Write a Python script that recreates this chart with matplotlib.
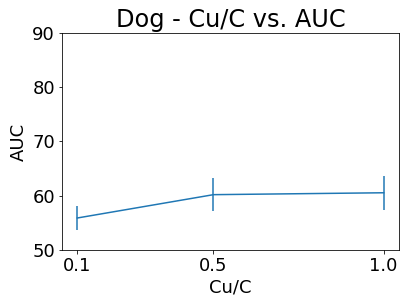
import matplotlib
matplotlib.use("Agg")
import matplotlib.pyplot as plt

cu_c = [0.1, 0.5, 1.0]
auc = [55.9, 60.2, 60.55]
auc_err = [2.2, 3.0, 3.1]
y_ticks = [50, 60, 70, 80, 90]

fig = plt.figure(figsize=(405 / 72, 305 / 72), dpi=72)
ax = fig.add_axes([62 / 405, 1 - 250 / 305, 337 / 405, 217 / 305])

ax.errorbar(cu_c, auc, yerr=auc_err, color="tab:blue")
ax.set_xticks(cu_c)
ax.set_xticklabels(["0.1", "0.5", "1.0"])
ax.set_ylim(50, 90)
ax.set_yticks(y_ticks)
ax.tick_params(labelsize=18)
ax.set_xlabel("Cu/C", fontsize=18)
ax.set_ylabel("AUC", fontsize=18)
ax.set_title("Dog - Cu/C vs. AUC", fontsize=24)

fig.savefig("out.png", dpi=72, facecolor="white")
